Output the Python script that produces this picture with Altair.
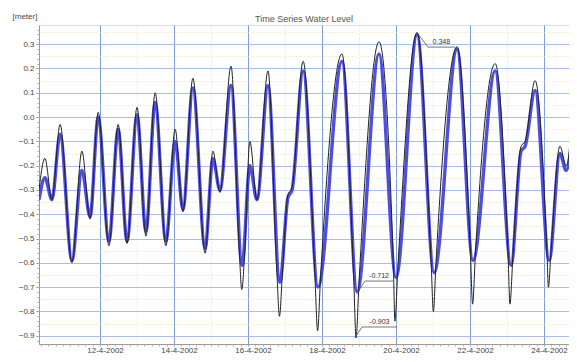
import altair as alt
import pandas as pd

TITLE = "Time Series Water Level"
Y_UNIT = "[meter]"

# day of April 2002 (fractional) and level in metres, read at the extrema of each curve
model_day = [10.35, 10.51, 10.70, 10.92, 11.24, 11.51, 11.73, 11.95, 12.24, 12.49,
             12.73, 13.00, 13.24, 13.49, 13.78, 14.03, 14.24, 14.51, 14.84, 15.05,
             15.24, 15.54, 15.84, 16.05, 16.24, 16.54, 16.86, 17.08, 17.19, 17.49,
             17.89, 18.54, 18.95, 19.54, 20.00, 20.57, 21.03, 21.65, 22.08, 22.68,
             23.11, 23.38, 23.49, 23.76, 24.14, 24.43, 24.60, 24.84]
model_level = [-0.34, -0.25, -0.34, -0.07, -0.59, -0.22, -0.41, 0.00, -0.51, -0.05,
               -0.51, 0.01, -0.47, 0.06, -0.51, -0.10, -0.38, 0.12, -0.54, -0.17,
               -0.30, 0.13, -0.61, -0.20, -0.34, 0.13, -0.68, -0.33, -0.30, 0.19,
               -0.70, 0.23, -0.72, 0.26, -0.66, 0.34, -0.64, 0.28, -0.59, 0.19,
               -0.61, -0.14, -0.12, 0.11, -0.59, -0.15, -0.22, 0.09]

obs_day = [10.35, 10.51, 10.70, 10.92, 11.24, 11.51, 11.73, 11.95, 12.24, 12.49,
           12.73, 13.00, 13.24, 13.49, 13.78, 14.03, 14.24, 14.51, 14.84, 15.05,
           15.24, 15.54, 15.77, 15.83, 15.91, 16.05, 16.24, 16.54, 16.78, 16.85,
           16.93, 17.08, 17.19, 17.49, 17.81, 17.88, 17.96, 18.54, 18.86, 18.92,
           19.00, 19.54, 19.93, 19.97, 20.05, 20.57, 20.95, 21.01, 21.08, 21.65,
           22.01, 22.07, 22.15, 22.68, 23.03, 23.08, 23.16, 23.38, 23.49, 23.76,
           24.08, 24.12, 24.19, 24.43, 24.60, 24.84]
obs_level = [-0.30, -0.17, -0.34, -0.03, -0.60, -0.14, -0.42, 0.02, -0.53, -0.03,
             -0.52, 0.04, -0.49, 0.10, -0.53, -0.05, -0.39, 0.16, -0.56, -0.14,
             -0.31, 0.21, -0.57, -0.71, -0.56, -0.10, -0.34, 0.19, -0.64, -0.82,
             -0.64, -0.32, -0.29, 0.23, -0.66, -0.88, -0.66, 0.26, -0.68, -0.909,
             -0.68, 0.31, -0.62, -0.84, -0.62, 0.348, -0.60, -0.80, -0.60, 0.29,
             -0.55, -0.77, -0.55, 0.22, -0.57, -0.77, -0.57, -0.12, -0.10, 0.15,
             -0.55, -0.70, -0.55, -0.12, -0.20, 0.13]

major_days = [12, 14, 16, 18, 20, 22, 24]
y_ticks = [-0.9, -0.8, -0.7, -0.6, -0.5, -0.4, -0.3, -0.2, -0.1, 0.0, 0.1, 0.2, 0.3]

# annotations: label, marked point, elbow of leader, end of leader
ann_label = ["0.348", "-0.712", "-0.903"]
ann_day = [20.57, 18.97, 18.89]
ann_level = [0.348, -0.72, -0.909]
ann_elbow_day = [20.86, 19.16, 19.08]
ann_elbow_level = [0.288, -0.675, -0.864]
ann_end_day = [21.59, 19.92, 20.03]

X_MIN, X_MAX = 10.35, 24.676
Y_MIN, Y_MAX = -0.934, 0.379

FONT = "Liberation Sans"

model_df = pd.DataFrame({"day": model_day, "level": model_level})
obs_df = pd.DataFrame({"day": obs_day, "level": obs_level})

rows = []
for i, lab in enumerate(ann_label):
    rows.append({"id": i, "o": 0, "day": ann_day[i], "level": ann_level[i]})
    rows.append({"id": i, "o": 1, "day": ann_elbow_day[i], "level": ann_elbow_level[i]})
    rows.append({"id": i, "o": 2, "day": ann_end_day[i], "level": ann_elbow_level[i]})
lead_df = pd.DataFrame(rows)
text_df = pd.DataFrame({
    "label": ann_label,
    "day": [(a + b) / 2 for a, b in zip(ann_elbow_day, ann_end_day)],
    "level": ann_elbow_level,
})

xs = alt.Scale(domain=[X_MIN, X_MAX], nice=False, zero=False)
ys = alt.Scale(domain=[Y_MIN, Y_MAX], nice=False, zero=False)

minor_x = [round(10.4 + 0.2 * i, 2) for i in range(72)]
minor_y = [round(-0.92 + 0.02 * i, 2) for i in range(65)]
half_x = [13, 15, 17, 19, 21, 23]
half_y = [round(v + 0.05, 2) for v in y_ticks]

model_line = alt.Chart(model_df).mark_line(
    color="#3c3cdc", strokeWidth=3.4, opacity=0.9, interpolate="monotone", clip=True
).encode(
    x=alt.X("day:Q", scale=xs, axis=alt.Axis(
        values=major_days, labelExpr="datum.value + '-4-2002'", orient="bottom",
        grid=True, gridColor="#7d9dd8", gridWidth=1, tickSize=2, tickColor="#888",
        domainColor="#999", labelFontSize=8, labelColor="#444", labelPadding=0,
        labelOffset=5, labelFont=FONT, title=None)),
    y=alt.Y("level:Q", scale=ys, axis=alt.Axis(
        values=y_ticks, format=".1f", orient="left", grid=True, gridColor="#a9bdea",
        gridWidth=1.2, tickSize=3, tickColor="#888", domainColor="#999",
        labelFontSize=8, labelColor="#444", labelPadding=2, labelFont=FONT,
        title=Y_UNIT, titleAngle=0, titleX=-27, titleY=-9, titleAlign="left",
        titleBaseline="middle", titleFontSize=8, titleFontWeight="normal",
        titleColor="#444", titleFont=FONT)),
)

obs_line = alt.Chart(obs_df).mark_line(
    color="#222222", strokeWidth=1, interpolate="monotone", clip=True
).encode(
    x=alt.X("day:Q", scale=xs, axis=None),
    y=alt.Y("level:Q", scale=ys, axis=None),
)

minor_ticks = alt.Chart(model_df).mark_line(opacity=0).encode(
    x=alt.X("day:Q", scale=xs, axis=alt.Axis(
        values=minor_x, orient="bottom", labels=False, domain=False, grid=False,
        tickSize=2, tickColor="#b8b090", title=None)),
    y=alt.Y("level:Q", scale=ys, axis=alt.Axis(
        values=minor_y, orient="left", labels=False, domain=False, grid=False,
        tickSize=2, tickColor="#aaa", title=None)),
)

minor_grid = alt.Chart(model_df).mark_line(opacity=0).encode(
    x=alt.X("day:Q", scale=xs, axis=alt.Axis(
        values=half_x, orient="bottom", labels=False, domain=False, ticks=False,
        grid=True, gridColor="#ece3a0", gridDash=[2, 2], gridOpacity=0.7, title=None)),
    y=alt.Y("level:Q", scale=ys, axis=alt.Axis(
        values=half_y, orient="left", labels=False, domain=False, ticks=False,
        grid=True, gridColor="#ece3a0", gridDash=[2, 2], gridOpacity=0.7, title=None)),
)

leaders = alt.Chart(lead_df).mark_line(color="#555", strokeWidth=0.8).encode(
    x=alt.X("day:Q", scale=xs, axis=None),
    y=alt.Y("level:Q", scale=ys, axis=None),
    detail="id:N",
    order="o:Q",
)

labels = alt.Chart(text_df).mark_text(
    fontSize=7, color="#333", dy=-5, font=FONT
).encode(
    x=alt.X("day:Q", scale=xs, axis=None),
    y=alt.Y("level:Q", scale=ys, axis=None),
    text="label:N",
)

chart = alt.layer(
    minor_grid, model_line, minor_ticks, obs_line, leaders, labels
).resolve_axis(x="independent", y="independent").properties(
    width=530, height=319,
    autosize=alt.AutoSizeParams(type="none"),
    padding={"left": 31, "top": 17, "right": 0, "bottom": 10},
    title=alt.TitleParams(TITLE, fontSize=9, color="#555", fontWeight="normal",
                          offset=3, dy=15, anchor="middle", font=FONT),
).configure_view(stroke="#c8c8c8", fill="#fbfcfe").configure(background="white")

chart.save("out.html", embed_options={"renderer": "svg", "actions": False})
